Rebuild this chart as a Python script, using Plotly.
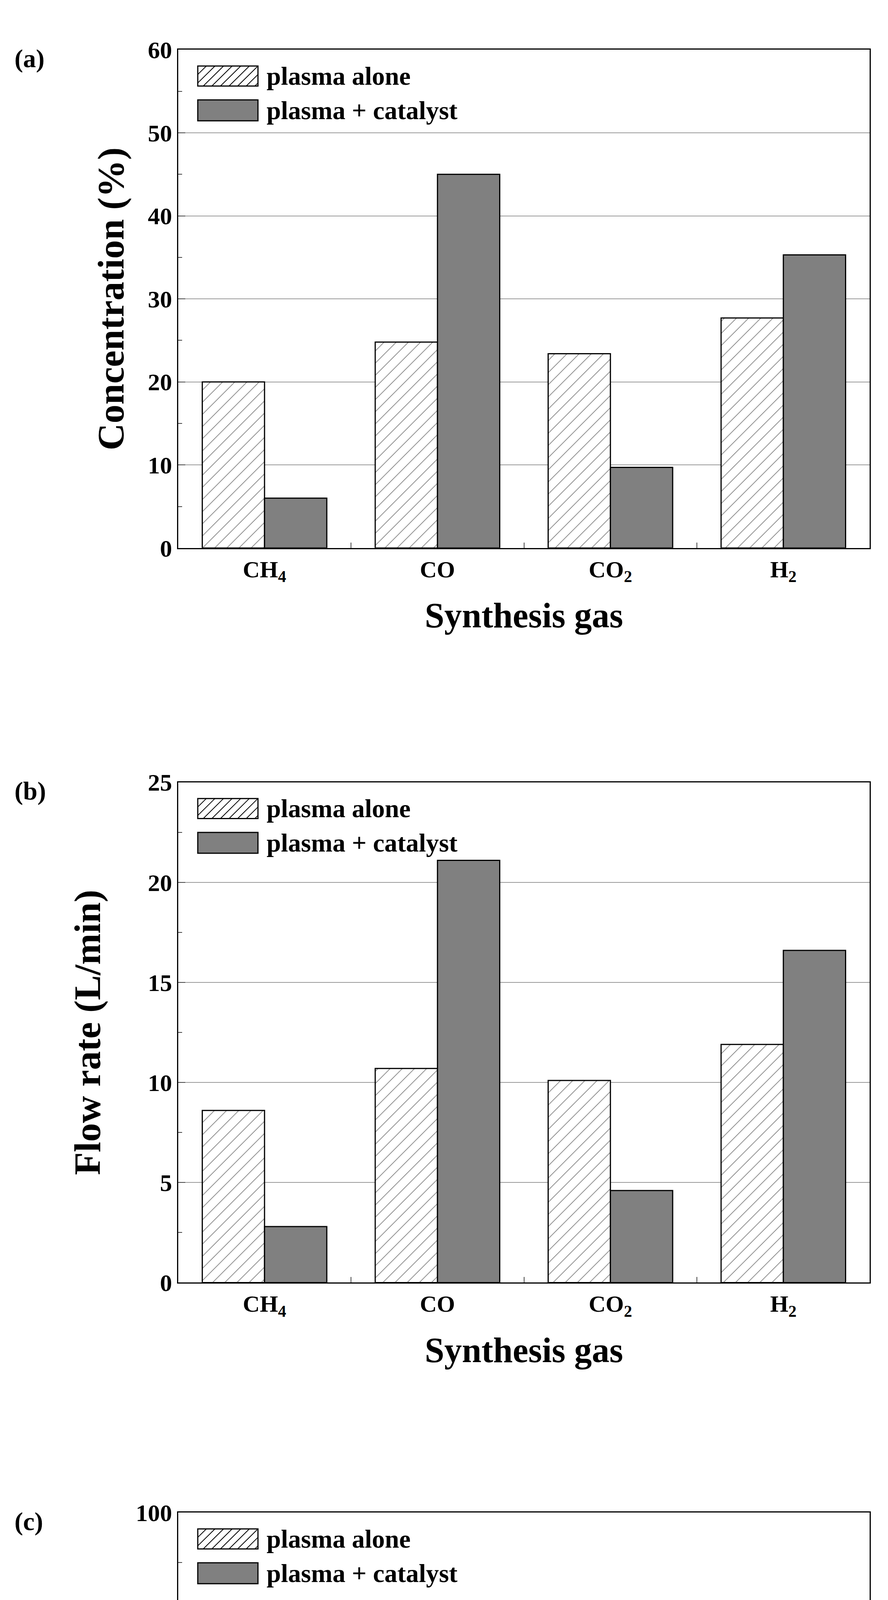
import plotly.graph_objects as go

gases = ["CH<sub>4</sub>", "CO", "CO<sub>2</sub>", "H<sub>2</sub>"]
conc_alone = [20.0, 24.8, 23.4, 27.7]
conc_cat = [6.0, 45.0, 9.7, 35.3]
flow_alone = [8.6, 10.7, 10.1, 11.9]
flow_cat = [2.8, 21.1, 4.6, 16.6]
reform = ["CH<sub>4</sub>", "CO<sub>2</sub>"]
conv_alone = [42.8, 33.0]
conv_cat = [81.0, 69.4]
series_names = ["plasma alone", "plasma + catalyst"]

FONT = "Liberation Serif"
W, H = 2272, 5472
GRAY = "#808080"

panels = [
    # (x, alone, cat, ytitle, xtitle, ymax, dtick, ydomain, tag, bargap, ytitle standoff)
    (gases, conc_alone, conc_cat, "Concentration (%)", "Synthesis gas", 60, 10, [0.748, 0.984], "(a)", 0.28, 30),
    (gases, flow_alone, flow_cat, "Flow rate (L/min)", "Synthesis gas", 25, 5, [0.400, 0.637], "(b)", 0.28, 90),
    (reform, conv_alone, conv_cat, "Conversion (%)", "Reforming gas", 100, 20, [0.055, 0.291], "(c)", 0.41, 95),
]

fig = go.Figure()
annotations = []
shapes = []


def px(x, y):
    # pixel (from top-left) -> paper coords
    return x / W, 1 - y / H


for i, (cats, alone, cat, ytitle, xtitle, ymax, dt, dom, tag, gap, ystand) in enumerate(panels, start=1):
    xa = "x" if i == 1 else f"x{i}"
    ya = "y" if i == 1 else f"y{i}"
    fig.add_trace(go.Bar(
        x=cats, y=alone, name=series_names[0], xaxis=xa, yaxis=ya, showlegend=False,
        offsetgroup="a", width=(1 - gap) / 2, offset=-(1 - gap) / 2,
        marker=dict(color="white", line=dict(color="black", width=3),
                    pattern=dict(shape="/", fgcolor="black", bgcolor="white", size=22, solidity=0.08)),
    ))
    fig.add_trace(go.Bar(
        x=cats, y=cat, name=series_names[1], xaxis=xa, yaxis=ya, showlegend=False,
        offsetgroup="b", width=(1 - gap) / 2, offset=0,
        marker=dict(color=GRAY, line=dict(color="black", width=3)),
    ))
    axkey = "" if i == 1 else str(i)
    fig.update_layout(**{
        f"xaxis{axkey}": dict(
            domain=[0.197, 0.976], anchor=ya, showline=True, mirror=True, linecolor="black", linewidth=3,
            ticks="inside", tickson="boundaries", ticklen=14, tickwidth=2,
            tickfont=dict(family=FONT, size=60, color="black", weight="bold"),
            title=dict(text=xtitle, font=dict(family=FONT, size=90, color="black", weight="bold"), standoff=45),
        ),
        f"yaxis{axkey}": dict(
            domain=dom, anchor=xa, range=[0, ymax], dtick=dt, showline=True, mirror=True,
            linecolor="black", linewidth=3, ticks="inside", ticklen=18, tickwidth=2,
            minor=dict(ticks="inside", ticklen=10, tickwidth=2, dtick=dt / 2, showgrid=False),
            showgrid=True, gridcolor="#9a9a9a", gridwidth=2, zeroline=False,
            tickfont=dict(family=FONT, size=62, color="black", weight="bold"),
            title=dict(text=ytitle, font=dict(family=FONT, size=96, color="black", weight="bold"), standoff=ystand),
        ),
    })
    annotations.append(dict(text=tag, xref="paper", yref="paper", x=0.012, y=dom[1] + 0.003,
                            xanchor="left", yanchor="top", showarrow=False,
                            font=dict(family=FONT, size=66, color="black", weight="bold")))

    # legend drawn as shapes inside the plot
    top = (1 - dom[1]) * H
    lx0, lx1 = 498, 652
    for k, (o0, o1) in enumerate([(42, 94), (130, 184)]):
        y0p, y1p = top + o0, top + o1
        a0 = px(lx0, y1p)
        a1 = px(lx1, y0p)
        shapes.append(dict(type="rect", xref="paper", yref="paper", x0=a0[0], y0=a0[1], x1=a1[0], y1=a1[1],
                           fillcolor="white" if k == 0 else GRAY, line=dict(color="black", width=3)))
        if k == 0:
            hgt = y1p - y0p
            step = 22
            s = lx0 - hgt
            while s < lx1:
                # line from (s, y1p) to (s+hgt, y0p), clipped to box
                xs, ys, xe, ye = s, y1p, s + hgt, y0p
                if xs < lx0:
                    ys = y1p - (lx0 - xs)
                    xs = lx0
                if xe > lx1:
                    ye = y0p + (xe - lx1)
                    xe = lx1
                if xe > xs:
                    p0, p1 = px(xs, ys), px(xe, ye)
                    shapes.append(dict(type="line", xref="paper", yref="paper", x0=p0[0], y0=p0[1],
                                       x1=p1[0], y1=p1[1], line=dict(color="black", width=2)))
                s += step
        annotations.append(dict(text=series_names[k], xref="paper", yref="paper",
                                x=672 / W, y=1 - (y0p + y1p) / 2 / H, xanchor="left", yanchor="middle",
                                showarrow=False,
                                font=dict(family=FONT, size=66, color="black", weight="bold")))

fig.update_layout(
    width=W, height=H, margin=dict(l=0, r=0, t=0, b=0),
    plot_bgcolor="white", paper_bgcolor="white",
    barmode="group", showlegend=False,
    annotations=annotations, shapes=shapes,
)

fig.write_html("out.html")
